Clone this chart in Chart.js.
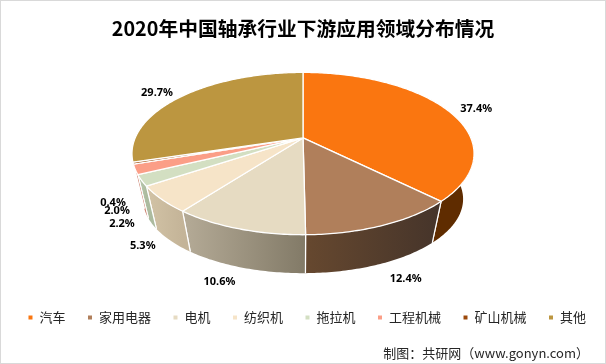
<!DOCTYPE html>
<html><head><meta charset="utf-8">
<style>html,body{margin:0;padding:0;background:#fff}#w{width:606px;height:364px;position:relative}</style>
<script src="https://cdn.jsdelivr.net/npm/chart.js@4"></script></head>
<body><div id="w"><canvas id="c" width="606" height="364"></canvas></div>
<script>
const chartTitle = '2020年中国轴承行业下游应用领域分布情况';
const sourceNote = '制图：共研网（www.gonyn.com）';
const categories = ['汽车','家用电器','电机','纺织机','拖拉机','工程机械','矿山机械','其他'];
const shares = [37.4,12.4,10.6,5.3,2.2,2.0,0.4,29.7];
const topColors = ['#fa7610','#b07f5b','#e6dbc2','#f6e4c8','#d3dfc2','#fb9e87','#9c4a0c','#bc9640'];
const wallLeft  = ['#5f2c00','#66482f','#b5ab97','#d2c3a6','#bccbb0','#de8d78','#7a3a08','#8a6a2a'];
const wallRight = ['#5f2c00','#45342a','#827a67','#c4b498','#acbb9f','#c97c68','#7a3a08','#8a6a2a'];
const labelNudge = [[29,-1],[28,14],[-23,14],[-28,5],[-30,0],[-29,-3],[-31,-4.5],[-25,-3]];

// tilt model: a circle seen in perspective, with the apex above the ellipse centre
const TILT = {skew:0.1925, sx:1.398, sy:0.651, apexDy:-30.5, bx:0.936, by:0.913, cyTop:15.5, cyBot:61, wallEnd:2.83};

function project(arc, angle, r, face){
  const R = arc.outerRadius, s = Math.cos(angle)*r, c = Math.sin(angle)*r;
  const d = 1 - TILT.skew*c;
  let X = TILT.sx*R*s/d, Y = TILT.sy*R*c/d;
  if(face==='bottom'){ X*=TILT.bx; Y=(Y-TILT.cyTop)*TILT.by+TILT.cyBot; }
  return [arc.x+X, arc.y+TILT.apexDy+Y];
}
function pathArc(ctx, arc, a0, a1, face, first){
  const n = Math.max(2, Math.ceil(Math.abs(a1-a0)/0.015));
  for(let i=0;i<=n;i++){
    const p = project(arc, a0+(a1-a0)*i/n, 1, face);
    if(i===0&&first) ctx.moveTo(p[0],p[1]); else ctx.lineTo(p[0],p[1]);
  }
}
const pie3d = {
  id:'pie3d',
  afterLayout(chart){ chart.legend.left+=4; chart.legend.right+=4; },
  beforeDraw(chart){
    const c=chart.ctx; c.save(); c.fillStyle='#fff'; c.fillRect(0,0,606,364);
    c.strokeStyle='#d9d9d9'; c.lineWidth=1; c.strokeRect(0.5,0.5,605,363); c.restore();
  },
  beforeDatasetsDraw(chart){
    const c=chart.ctx, arcs=chart.getDatasetMeta(0).data;
    c.save();
    arcs.forEach((a,i)=>{
      const a0=a.startAngle, a1=a.endAngle;
      const lo=Math.max(a0,-0.05), hi=Math.min(a1,TILT.wallEnd);
      if(hi<=lo) return;
      const pa=project(a,lo,1,'top'), pb=project(a,hi,1,'top');
      const g=c.createLinearGradient(Math.min(pa[0],pb[0]),0,Math.max(pa[0],pb[0]),0);
      g.addColorStop(0,wallLeft[i]); g.addColorStop(1,wallRight[i]);
      c.beginPath(); pathArc(c,a,lo,hi,'top',true);
      pathArc(c,a,hi,lo,'bottom',false); c.closePath();
      c.fillStyle=g; c.fill();
      c.strokeStyle='#fff'; c.lineWidth=1.2;
      c.beginPath(); const t0=project(a,lo,1,'top'), b0=project(a,lo,1,'bottom');
      if(lo>0){c.moveTo(t0[0],t0[1]); c.lineTo(b0[0],b0[1]);}
      const t1=project(a,hi,1,'top'), b1=project(a,hi,1,'bottom');
      if(hi<TILT.wallEnd){c.moveTo(t1[0],t1[1]); c.lineTo(b1[0],b1[1]);}
      c.stroke();
    });
    arcs.forEach((a,i)=>{
      const apex=project(a,0,0,'top');
      c.beginPath(); c.moveTo(apex[0],apex[1]);
      pathArc(c,a,a.startAngle,a.endAngle,'top',false); c.closePath();
      c.fillStyle=topColors[i]; c.fill();
      c.strokeStyle='#fff'; c.lineWidth=1.3; c.lineJoin='round'; c.stroke();
    });
    c.restore();
    return false;
  },
  afterDraw(chart){
    const c=chart.ctx, arcs=chart.getDatasetMeta(0).data;
    c.save();
    c.textAlign='center'; c.textBaseline='middle'; c.fillStyle='#000';
    c.font='bold 11px "Noto Sans","Noto Sans CJK SC",sans-serif';
    arcs.forEach((a,i)=>{
      const mid=(a.startAngle+a.endAngle)/2;
      const p=project(a,mid,1,(i===0||i===7)?'top':'bottom');
      c.fillText(shares[i].toFixed(1)+'%',p[0]+labelNudge[i][0],p[1]+labelNudge[i][1]);
    });
    c.textAlign='right'; c.font='13px "Noto Sans CJK SC",sans-serif'; c.fillStyle='#262626';
    c.fillText(sourceNote,589,353);
    c.restore();
  }
};
new Chart(document.getElementById('c'),{
  type:'pie',
  data:{labels:categories,datasets:[{data:shares,backgroundColor:topColors,borderColor:'#fff',borderWidth:1}]},
  options:{
    responsive:false,animation:false,
    layout:{padding:{top:17,bottom:30,left:0,right:0}},
    plugins:{
      title:{display:true,text:chartTitle,color:'#000',padding:{top:0,bottom:7.2},
        font:{family:'"Noto Sans CJK SC",sans-serif',size:19.75,weight:'bold'}},
      legend:{position:'bottom',labels:{boxWidth:5,boxHeight:5,padding:22,color:'#262626',
        font:{family:'"Noto Sans CJK SC",sans-serif',size:13}}},
      tooltip:{enabled:false}
    }
  },
  plugins:[pie3d]
});
</script></body></html>
